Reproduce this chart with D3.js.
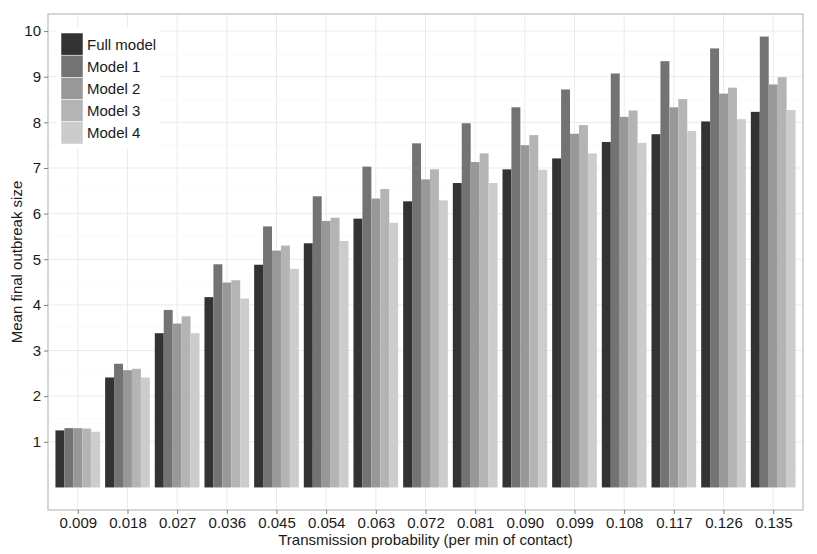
<!DOCTYPE html>
<html><head><meta charset="utf-8">
<script src="https://cdn.jsdelivr.net/npm/d3@7/dist/d3.min.js"></script>
<style>body{margin:0;background:#fff;} svg{display:block;font-family:"Liberation Sans",Arial,sans-serif;}</style>
</head><body>
<script>
const categories = ["0.009","0.018","0.027","0.036","0.045","0.054","0.063","0.072","0.081","0.090","0.099","0.108","0.117","0.126","0.135"];
const seriesNames = ["Full model","Model 1","Model 2","Model 3","Model 4"];
const fullModel = [1.25,2.41,3.38,4.17,4.88,5.35,5.89,6.27,6.67,6.97,7.21,7.57,7.74,8.02,8.23];
const model1    = [1.30,2.71,3.89,4.89,5.72,6.38,7.03,7.54,7.98,8.33,8.72,9.07,9.34,9.62,9.88];
const model2    = [1.30,2.57,3.59,4.49,5.19,5.84,6.33,6.75,7.13,7.50,7.75,8.12,8.33,8.63,8.83];
const model3    = [1.29,2.60,3.75,4.54,5.30,5.91,6.54,6.97,7.32,7.72,7.94,8.26,8.51,8.76,8.99];
const model4    = [1.22,2.41,3.38,4.14,4.79,5.40,5.80,6.29,6.67,6.96,7.32,7.55,7.81,8.07,8.27];
const yTicks = [1,2,3,4,5,6,7,8,9,10];
const colors = ["#333333","#737373","#989898","#B4B4B4","#CCCCCC"];
const series = [fullModel, model1, model2, model3, model4];

const W = 817, H = 554;
const FS = "15px";
const panel = {left:48, right:803, top:14, bottom:510};
const svg = d3.select("body").append("svg").attr("width",W).attr("height",H);

// scales
const step = (panel.right-panel.left)/(categories.length - 1 + 1.2);
const x = d3.scalePoint().domain(categories)
  .range([panel.left + 0.6*step, panel.right - 0.6*step]);
const groupW = 0.9*step;
const xInner = d3.scaleBand().domain(seriesNames).range([-groupW/2, groupW/2]).padding(0);
const maxV = d3.max(series.flat());
const y = d3.scaleLinear().domain([0 - 0.05*maxV, maxV*1.05]).range([panel.bottom, panel.top]);

// panel background
svg.append("rect").attr("x",panel.left).attr("y",panel.top)
  .attr("width",panel.right-panel.left).attr("height",panel.bottom-panel.top).attr("fill","#fff");

// minor grid
const minor = yTicks.map(t=>t-0.5).concat([10.5]).filter(v=>v>y.domain()[0] && v<y.domain()[1]);
svg.append("g").selectAll("line").data(minor).join("line")
  .attr("x1",panel.left).attr("x2",panel.right)
  .attr("y1",d=>y(d)).attr("y2",d=>y(d))
  .attr("stroke","#f7f7f7").attr("stroke-width",0.6);
// major grid
svg.append("g").selectAll("line").data(yTicks).join("line")
  .attr("x1",panel.left).attr("x2",panel.right)
  .attr("y1",d=>y(d)).attr("y2",d=>y(d))
  .attr("stroke","#ebebeb").attr("stroke-width",1);
svg.append("g").selectAll("line").data(categories).join("line")
  .attr("y1",panel.top).attr("y2",panel.bottom)
  .attr("x1",d=>x(d)).attr("x2",d=>x(d))
  .attr("stroke","#ebebeb").attr("stroke-width",1);

// bars
const g = svg.append("g");
categories.forEach((c,i)=>{
  seriesNames.forEach((s,j)=>{
    const v = series[j][i];
    g.append("rect")
      .attr("x", x(c) + xInner(s))
      .attr("width", xInner.bandwidth())
      .attr("y", y(v))
      .attr("height", y(0)-y(v))
      .attr("fill", colors[j]);
  });
});

// panel border
svg.append("rect").attr("x",panel.left).attr("y",panel.top)
  .attr("width",panel.right-panel.left).attr("height",panel.bottom-panel.top)
  .attr("fill","none").attr("stroke","#bdbdbd").attr("stroke-width",1.2);

// y axis
const yAxis = d3.axisLeft(y).tickValues(yTicks).tickSize(4).tickPadding(3).tickFormat(d3.format("d"));
const ya = svg.append("g").attr("transform",`translate(${panel.left},0)`).call(yAxis);
ya.select(".domain").remove();
ya.selectAll(".tick line").attr("stroke","#7f7f7f");
ya.selectAll(".tick text").attr("font-size",FS).attr("fill","#1a1a1a");

// x axis
const xAxis = d3.axisBottom(x).tickSize(4).tickPadding(3);
const xa = svg.append("g").attr("transform",`translate(0,${panel.bottom})`).call(xAxis);
xa.select(".domain").remove();
xa.selectAll(".tick line").attr("stroke","#7f7f7f");
xa.selectAll(".tick text").attr("font-size",FS).attr("fill","#1a1a1a");

// axis titles
svg.append("text").attr("x",(panel.left+panel.right)/2).attr("y",545)
  .attr("text-anchor","middle").attr("font-size",FS).attr("fill","#1a1a1a")
  .text("Transmission probability (per min of contact)");
svg.append("text").attr("transform",`translate(22,${(panel.top+panel.bottom)/2}) rotate(-90)`)
  .attr("text-anchor","middle").attr("font-size",FS).attr("fill","#1a1a1a")
  .text("Mean final outbreak size");

// legend
const lg = svg.append("g").attr("transform","translate(61,33)");
lg.append("rect").attr("x",-5).attr("y",-5).attr("width",104).attr("height",121).attr("fill","#fff");
const keyH = 22.2;
seriesNames.forEach((s,j)=>{
  lg.append("rect").attr("x",0).attr("y",j*keyH).attr("width",22).attr("height",keyH)
    .attr("fill",colors[j]).attr("stroke","#fff").attr("stroke-width",0.5);
  lg.append("text").attr("x",26).attr("y",j*keyH+keyH/2+5.5)
    .attr("font-size",FS).attr("fill","#1a1a1a").text(s);
});
</script>
</body></html>
